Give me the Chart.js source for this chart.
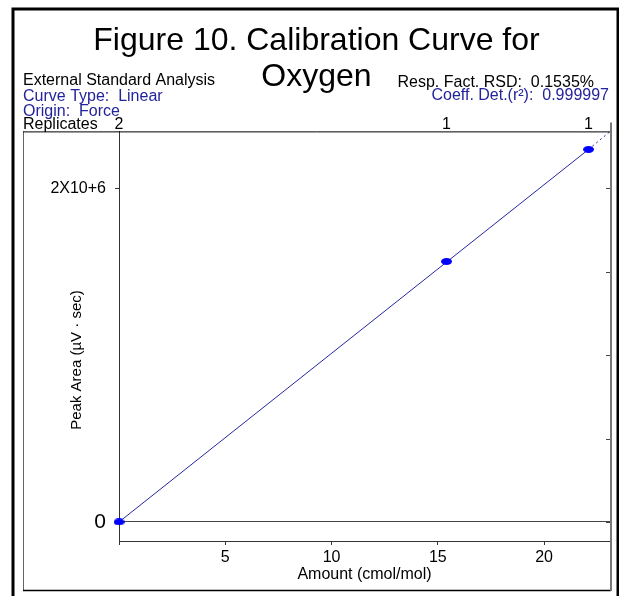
<!DOCTYPE html>
<html>
<head>
<meta charset="utf-8">
<title>Calibration Curve for Oxygen</title>
<script src="https://cdn.jsdelivr.net/npm/chart.js@4.4.1/dist/chart.umd.min.js"></script>
<style>
  html, body { margin: 0; padding: 0; background: #fff; }
  #wrap { width: 619px; height: 596px; }
</style>
</head>
<body>
<div id="wrap"><canvas id="cal-chart"></canvas></div>
<script>
// calibration standards
const amounts = [0, 15.41, 22.09];
const peakAreas = [0, 1562000, 2234000];
const replicates = [2, 1, 1];

// fitted line (solid) and its extrapolation (dotted)
const fitX = [0, 22.09];
const fitY = [0, 2234000];
const extX = [22.09, 23.1];
const extY = [2234000, 2341000];

// axes
const xTicks = [0, 5, 10, 15, 20];
const yTicks = [0, 2000000];
const yTickLabels = ['0', '2X10+6'];
const rightTicks = [0, 500000, 1000000, 1500000, 2000000];

const infoLeft = ['External Standard Analysis', 'Curve Type:  Linear', 'Origin:  Force'];
const infoRight = ['Resp. Fact. RSD:  0.1535%', 'Coeff. Det.(r²):  0.999997'];

const FONT = 'Arial, "Liberation Sans", sans-serif';
const BLUE_TEXT = '#23239b';
const LINE_BLUE = '#2626a0';

const toXY = (xs, ys) => xs.map((x, i) => ({ x: x, y: ys[i] }));

// flat blue ellipse used as the point marker
const dot = document.createElement('canvas');
dot.width = 11;
dot.height = 7;
const dctx = dot.getContext('2d');
dctx.fillStyle = '#0000ff';
dctx.beginPath();
dctx.ellipse(5.5, 3.5, 5.5, 3.5, 0, 0, Math.PI * 2);
dctx.fill();

const framePlugin = {
  id: 'frame',
  afterDraw(chart) {
    const { ctx, chartArea: a, scales } = chart;
    ctx.save();

    // outer frame
    ctx.strokeStyle = '#000';
    ctx.lineWidth = 3;
    ctx.strokeRect(13, 9, 605, 600);

    // inner box
    ctx.lineWidth = 1;
    ctx.strokeStyle = '#666';
    ctx.beginPath();
    ctx.moveTo(23.5, a.top);
    ctx.lineTo(23.5, 591);
    ctx.stroke();
    ctx.strokeStyle = '#000';
    ctx.lineWidth = 1.5;
    ctx.beginPath();
    ctx.moveTo(23, 590.5);
    ctx.lineTo(a.right + 1, 590.5);
    ctx.stroke();
    ctx.lineWidth = 1;
    ctx.beginPath();
    ctx.moveTo(23, a.top + 0.5);
    ctx.lineTo(a.right, a.top + 0.5);
    ctx.stroke();
    ctx.strokeStyle = '#777';
    ctx.lineWidth = 2;
    ctx.beginPath();
    ctx.moveTo(a.right + 1, a.top - 9);
    ctx.lineTo(a.right + 1, 591);
    ctx.stroke();

    // inward ticks on the right edge
    ctx.lineWidth = 1;
    ctx.strokeStyle = '#444';
    rightTicks.forEach(v => {
      const y = Math.round(scales.y.getPixelForValue(v)) + 0.5;
      ctx.beginPath();
      ctx.moveTo(a.right - 4, y);
      ctx.lineTo(a.right, y);
      ctx.stroke();
    });

    // header notes
    ctx.font = '16px ' + FONT;
    ctx.textBaseline = 'alphabetic';
    ctx.textAlign = 'left';
    const leftBase = [85, 101, 116];
    infoLeft.forEach((t, i) => {
      ctx.fillStyle = i === 0 ? '#000' : BLUE_TEXT;
      ctx.fillText(t, 23, leftBase[i]);
    });
    ctx.fillStyle = '#000';
    ctx.fillText('Replicates', 23, 128.5);

    ctx.textAlign = 'right';
    ctx.fillStyle = '#000';
    ctx.fillText(infoRight[0], 594, 87);
    ctx.fillStyle = BLUE_TEXT;
    ctx.fillText(infoRight[1], 609, 99.5);

    // replicate counts above each standard
    ctx.textAlign = 'center';
    ctx.fillStyle = '#000';
    replicates.forEach((n, i) => {
      ctx.fillText(String(n), scales.x.getPixelForValue(amounts[i]), 128.5);
    });

    // y axis title
    ctx.save();
    ctx.translate(77, 360);
    ctx.rotate(-Math.PI / 2);
    ctx.font = '15px ' + FONT;
    ctx.textBaseline = 'middle';
    ctx.fillText('Peak Area (µV · sec)', 0, 0);
    ctx.restore();

    ctx.restore();
  }
};

new Chart(document.getElementById('cal-chart'), {
  type: 'scatter',
  data: {
    datasets: [
      {
        label: 'Standards',
        data: toXY(amounts, peakAreas),
        pointStyle: dot,
        pointRadius: 5,
        showLine: false,
        clip: false
      },
      {
        label: 'Fit',
        data: toXY(fitX, fitY),
        showLine: true,
        borderColor: LINE_BLUE,
        borderWidth: 1,
        pointRadius: 0
      },
      {
        label: 'Extrapolated',
        data: toXY(extX, extY),
        showLine: true,
        borderColor: LINE_BLUE,
        borderWidth: 1,
        borderDash: [2, 3],
        pointRadius: 0
      }
    ]
  },
  options: {
    responsive: true,
    maintainAspectRatio: false,
    animation: false,
    layout: { padding: { left: 23, right: 9, top: 0, bottom: 6 } },
    plugins: {
      legend: { display: false },
      tooltip: { enabled: false },
      title: {
        display: true,
        text: ['Figure 10. Calibration Curve for', 'Oxygen'],
        color: '#000',
        font: { family: FONT, size: 32, weight: 'normal', lineHeight: 1.1 },
        padding: { top: 24, bottom: 37 }
      }
    },
    scales: {
      x: {
        type: 'linear',
        min: 0,
        max: 23.1,
        afterFit: s => { s.height = 49; },
        afterBuildTicks: s => { s.ticks = xTicks.map(v => ({ value: v })); },
        ticks: {
          color: '#000',
          font: { family: FONT, size: 16 },
          padding: 3,
          maxRotation: 0,
          callback: v => (v === 0 ? '' : String(v))
        },
        grid: { drawOnChartArea: false, tickLength: 4, tickColor: '#333' },
        border: { color: '#333' },
        title: {
          display: true,
          text: 'Amount (cmol/mol)',
          color: '#000',
          font: { family: FONT, size: 16 },
          padding: { top: 0, bottom: 6 }
        }
      },
      y: {
        type: 'linear',
        min: -114000,
        max: 2342000,
        afterFit: s => { s.width = 96; },
        afterBuildTicks: s => { s.ticks = yTicks.map(v => ({ value: v })); },
        ticks: {
          color: '#000',
          padding: 9,
          font: c => ({ family: FONT, size: c.tick && c.tick.value === 0 ? 21 : 16 }),
          callback: v => yTickLabels[yTicks.indexOf(v)]
        },
        grid: {
          color: c => (c.tick && c.tick.value === 0 ? '#444' : 'transparent'),
          tickColor: '#333',
          tickLength: 4
        },
        border: { color: '#333' }
      }
    }
  },
  plugins: [framePlugin]
});
</script>
</body>
</html>
